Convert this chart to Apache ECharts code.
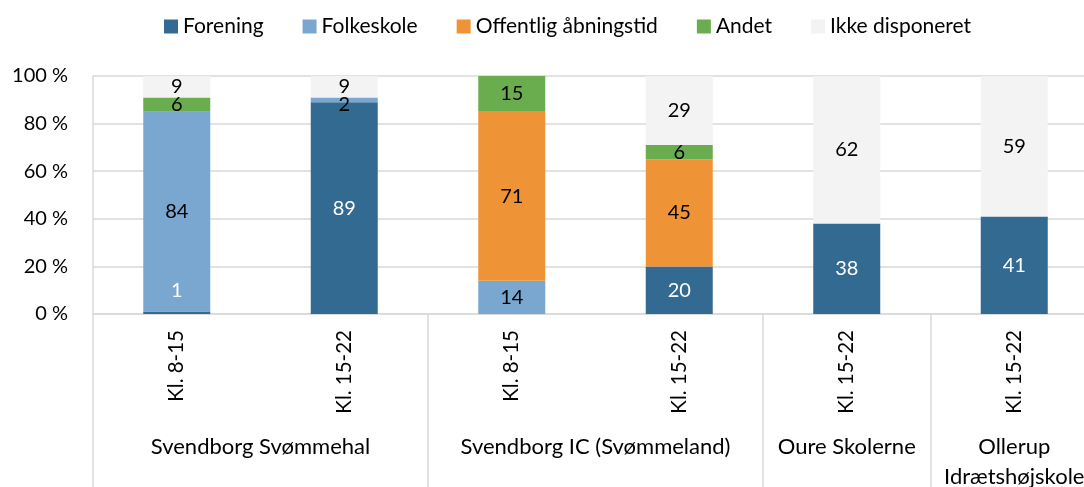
<!DOCTYPE html>
<html><head><meta charset="utf-8">
<script src="https://cdn.jsdelivr.net/npm/echarts@6/dist/echarts.min.js"></script>
<style>html,body{margin:0;padding:0;background:#fff}#c{width:1084px;height:487px}</style>
</head><body><div id="c"></div>
<script>
const categories = ['Kl. 8-15','Kl. 15-22','Kl. 8-15','Kl. 15-22','Kl. 15-22','Kl. 15-22'];
const groups = ['Svendborg Svømmehal','Svendborg IC (Svømmeland)','Oure Skolerne','Ollerup\nIdrætshøjskole'];
const groupSpan = [2,2,1,1];
const seriesNames = ['Forening','Folkeskole','Offentlig åbningstid','Andet','Ikke disponeret'];
const forening   = [1, 89, 0, 20, 38, 41];
const folkeskole = [84, 2, 14, 0, 0, 0];
const offentlig  = [0, 0, 71, 45, 0, 0];
const andet      = [6, 0, 15, 6, 0, 0];
const ikke       = [9, 9, 0, 29, 62, 59];
const yTicks = [0,20,40,60,80,100];

const colors = ['#336a91','#79a7d0','#ef9436','#69ad4f','#f2f3f2'];
const labelColors = ['#ffffff','#000000','#000000','#000000','#000000'];
const FONT = 'Lato';

// group axis: half-category slots
const nSlots = categories.length*2;
const groupAxisData = new Array(nSlots+1).fill('');
const sepIdx = [0];
let pos = 0;
groups.forEach((g,i)=>{ groupAxisData[pos+groupSpan[i]] = g; pos += groupSpan[i]*2; sepIdx.push(pos); });
const labelIdx = [];
pos = 0; groupSpan.forEach(s=>{ labelIdx.push(pos+s); pos += s*2; });

const values = [forening, folkeskole, offentlig, andet, ikke];
const series = values.map((arr,si)=>({
  name: seriesNames[si], type:'bar', stack:'total', xAxisIndex:0, barWidth:67,
  itemStyle:{color:colors[si]},
  data: arr.map((v,ci)=>{
    const d = {value:v};
    if (si===0 && ci===0) d.label = {offset:[0,-22]};
    if (si===1 && ci===1) d.label = {offset:[0,5]};
    return d;
  }),
  label:{show:true, position:'inside', color:labelColors[si], fontFamily:FONT, fontSize:20,
    formatter: p => p.value ? String(p.value) : ''}
}));

const chart = echarts.init(document.getElementById('c'));
chart.setOption({
  animation:false,
  textStyle:{fontFamily:FONT},
  legend:{top:11, left:159, itemWidth:14, itemHeight:14, itemGap:39,
    icon:'rect', textStyle:{fontFamily:FONT, fontSize:21, color:'#000'},
    data: seriesNames},
  grid:{left:93, top:76, bottom:173, width:1005, containLabel:false, outerBoundsMode:'none'},
  xAxis:[
    {type:'category', data:categories, position:'bottom',
     axisLine:{show:true, lineStyle:{color:'#d9d9d9', width:1.5}},
     axisTick:{show:false},
     axisLabel:{rotate:90, margin:16, fontFamily:FONT, fontSize:20.5, color:'#000', interval:0}},
    {type:'category', data:groupAxisData, position:'bottom', boundaryGap:false,
     axisLine:{show:false},
     axisTick:{show:true, length:180, interval:(i)=>sepIdx.includes(i), lineStyle:{color:'#d9d9d9', width:1.5}},
     axisLabel:{interval:(i)=>labelIdx.includes(i), margin:118, fontFamily:FONT, fontSize:22, color:'#000', lineHeight:30}}
  ],
  yAxis:{type:'value', min:yTicks[0], max:yTicks[yTicks.length-1], interval:20,
    axisLine:{show:true, lineStyle:{color:'#d9d9d9', width:1.5}},
    splitLine:{lineStyle:{color:'#d9d9d9', width:1.5}},
    axisLabel:{formatter:'{value} %', fontFamily:FONT, fontSize:20, color:'#000', margin:25}},
  series
});
</script></body></html>
